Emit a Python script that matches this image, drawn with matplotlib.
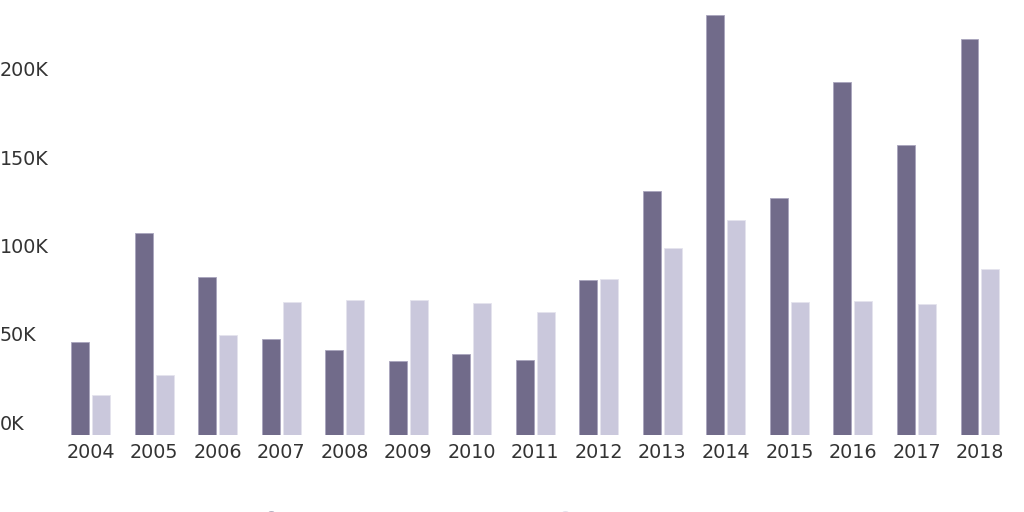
import matplotlib
matplotlib.use("Agg")
import matplotlib.pyplot as plt
import matplotlib.transforms as mtransforms
from matplotlib.lines import Line2D
import numpy as np

years = ["2004", "2005", "2006", "2007", "2008", "2009", "2010", "2011",
         "2012", "2013", "2014", "2015", "2016", "2017", "2018"]
series_a = [52.7, 114.4, 89.6, 54.2, 48.1, 41.9, 45.9, 42.5,
            87.8, 138.2, 237.8, 134.0, 199.7, 164.0, 224.4]
series_b = [22.6, 34.1, 56.5, 75.1, 76.4, 76.4, 74.7, 69.6,
            88.3, 105.9, 121.7, 75.1, 76.0, 74.3, 94.2]
y_ticks = [0, 50, 100, 150, 200]
y_labels = ["0K", "50K", "100K", "150K", "200K"]

dark = "#716b8a"
light = "#cac8dc"
text_col = "#333333"

W, H = 1024, 512
fig = plt.figure(figsize=(W / 100, H / 100), dpi=100)
ax = fig.add_axes([58.75 / W, 77 / H, (1011.75 - 58.75) / W, 435 / H])

x = np.arange(len(years))
bw = 0.283
ax.bar(x - 0.165, series_a, width=bw, color=dark, edgecolor="#a9a5bd", linewidth=0.6)
ax.bar(x + 0.165, series_b, width=bw, color=light, edgecolor="#e4e3ee", linewidth=0.6)

ax.set_xlim(-0.5, len(years) - 0.5)
ax.set_ylim(0, 246.3)
ax.set_xticks(x)
ax.set_xticklabels(years, fontsize=13.8, color=text_col, family="DejaVu Sans")
ax.tick_params(axis="x", length=0, pad=6)
ax.set_yticks([])
for s in ax.spines.values():
    s.set_visible(False)

# y labels sit at the left edge, a little above their value
trans = mtransforms.blended_transform_factory(fig.transFigure, ax.transData)
trans = trans + mtransforms.ScaledTranslation(0, 0.11, fig.dpi_scale_trans)
for v, lab in zip(y_ticks, y_labels):
    ax.text(0.0, v, lab, transform=trans, ha="left", va="center",
            fontsize=13.8, color=text_col, family="DejaVu Sans")

# legend markers, mostly cut off at the bottom edge
for xp, c in [(271, dark), (565, light)]:
    fig.add_artist(Line2D([xp / W], [-8 / H], marker="o", markersize=12,
                          color=c, linestyle="none", transform=fig.transFigure,
                          clip_on=False))

fig.savefig("out.png", dpi=100)
